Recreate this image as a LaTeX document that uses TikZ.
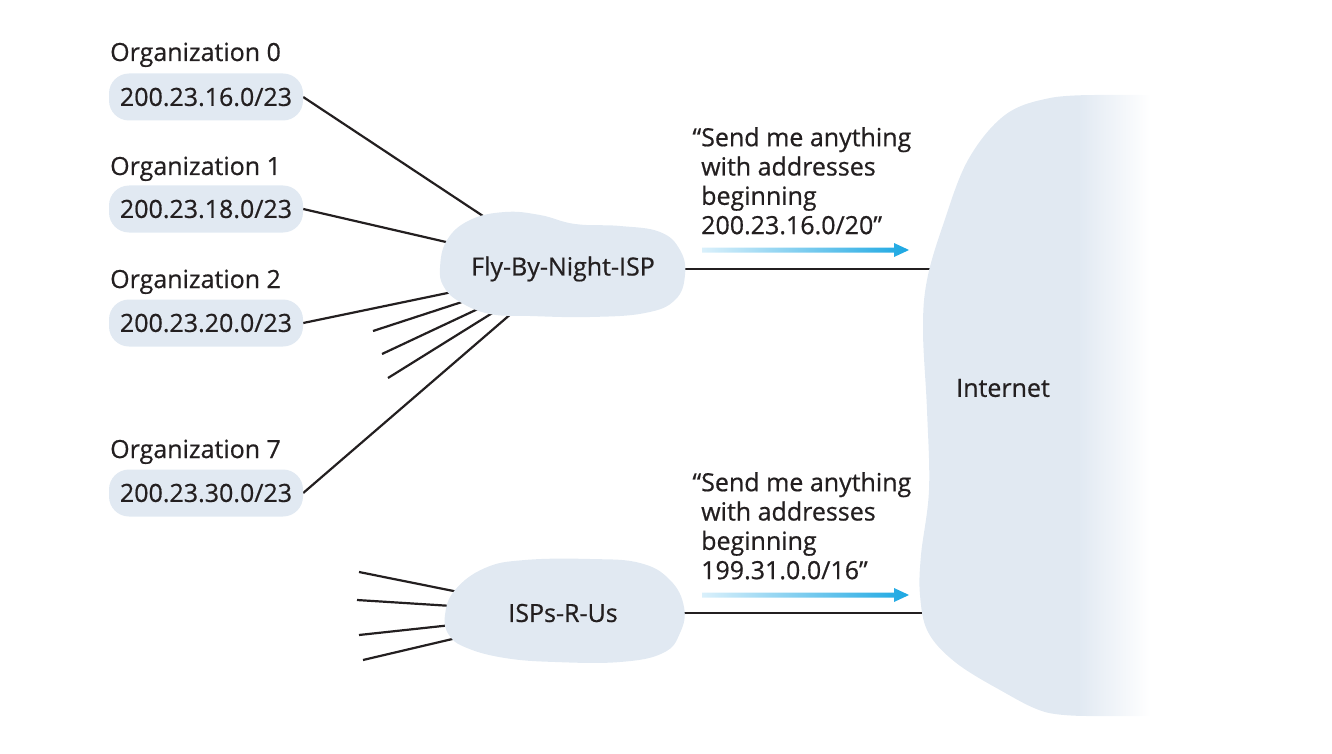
\documentclass[tikz,border=0pt]{standalone}
\usepackage{fontspec}
\setmainfont{Open Sans}[FakeBold=0.6]
\usepackage{tikz}
\usetikzlibrary{positioning}
\definecolor{cloudblue}{RGB}{225,233,242}
\definecolor{textgray}{RGB}{35,31,32}
\definecolor{arrowcyan}{RGB}{27,167,226}
\definecolor{arrowpale}{RGB}{218,240,251}
\pgfdeclarehorizontalshading{netfade}{100bp}{color(0bp)=(cloudblue); color(58bp)=(cloudblue); color(73bp)=(white); color(100bp)=(white)}
\pgfdeclarelayer{wires}
\pgfdeclarelayer{blobs}
\pgfsetlayers{wires,blobs,main}
\tikzstyle{orgblob} = [fill=cloudblue, rounded corners=20pt,
    minimum width=194pt, minimum height=47pt, inner sep=0pt]
\tikzstyle{orgname} = [anchor=base west, inner sep=0pt]
\tikzstyle{isp} = [inner sep=0pt]
\tikzstyle{link} = [draw=textgray, line width=2.2pt]
\tikzstyle{announce} = [align=left, anchor=north west, inner sep=0pt]
\tikzstyle{adarrow} = [left color=arrowpale, right color=arrowcyan]

\begin{document}
\begin{tikzpicture}[x=1pt, y=-1pt, font=\fontsize{25}{29.3}\selectfont, text=textgray]
    \useasboundingbox (0,0) rectangle (1332,754);
    % organizations
    \node [orgblob] (org0) at (206,97) {200.23.16.0/23};
    \node [orgname] (name0) at (110,61) {Organization 0};
    \node [orgblob] (org1) at (206,209) {200.23.18.0/23};
    \node [orgname] (name1) at (110,175) {Organization 1};
    \node [orgblob] (org2) at (206,323) {200.23.20.0/23};
    \node [orgname] (name2) at (110,288) {Organization 2};
    \node [orgblob] (org7) at (206,493) {200.23.30.0/23};
    \node [orgname] (name7) at (110,458) {Organization 7};
    % ISPs and the Internet
    \node [isp] (fbn) at (563,269) {Fly-By-Night-ISP};
    \node [isp] (rus) at (563,613) {ISPs-R-Us};
    \node [isp] (net) at (1003,388) {Internet};
    % advertisements
    \node [announce] (say1) at (701,127) {\llap{“}Send me anything\\with addresses\\beginning\\200.23.16.0/20”};
    \node [announce] (say2) at (701,472) {\llap{“}Send me anything\\with addresses\\beginning\\199.31.0.0/16”};
    \shade [adarrow] (702,247.5) -- (894,247.5) -- (894,243) -- (909,250) -- (894,257) -- (894,252.5) -- (702,252.5) -- cycle;
    \shade [adarrow] (702,592.5) -- (894,592.5) -- (894,588) -- (909,595) -- (894,602) -- (894,597.5) -- (702,597.5) -- cycle;
    % loose ends
    \coordinate (fbnstub1) at (373,331);
    \coordinate (fbnstub2) at (382,354);
    \coordinate (fbnstub3) at (388,378);
    \coordinate (russtub1) at (359,572);
    \coordinate (russtub2) at (357,600);
    \coordinate (russtub3) at (359,635);
    \coordinate (russtub4) at (363,660);
    \begin{pgfonlayer}{wires}
        \draw [link] (org0.east) -- (fbn.center);
        \draw [link] (org1.east) -- (fbn.center);
        \draw [link] (org2.east) -- (fbn.center);
        \draw [link] (org7.east) -- (fbn.center);
        \draw [link] (fbnstub1) -- (fbn.center);
        \draw [link] (fbnstub2) -- (fbn.center);
        \draw [link] (fbnstub3) -- (fbn.center);
        \draw [link] (russtub1) -- (rus.center);
        \draw [link] (russtub2) -- (rus.center);
        \draw [link] (russtub3) -- (rus.center);
        \draw [link] (russtub4) -- (rus.center);
        \draw [link] (fbn.center) -- (fbn.center -| net.west);
        \draw [link] (rus.center) -- (rus.center -| net.west);
    \end{pgfonlayer}
    \begin{pgfonlayer}{blobs}
        \fill [cloudblue] plot [smooth cycle, tension=0.7] coordinates {(440,268) (447,240) (470,220) (505,212) (540,215) (575,224) (620,226) (660,232) (680,250) (685,275) (675,300) (645,313) (590,317) (530,316) (490,314) (460,302) (444,287)};
        \fill [cloudblue] plot [smooth cycle, tension=0.7] coordinates {(445,615) (455,590) (485,568) (525,560) (590,559) (640,563) (670,580) (684,607) (680,633) (663,653) (620,662) (555,662) (505,658) (467,648) (449,635)};
        \shade [shading=netfade] (1160,95) -- plot [smooth, tension=0.6] coordinates {(1100,95) (1050,98) (1005,115) (968,160) (943,225) (927,280) (923,330) (927,410) (929,490) (921,555) (920,595) (928,632) (955,662) (1000,690) (1045,712) (1090,716)} -- (1160,716) -- cycle;
    \end{pgfonlayer}
\end{tikzpicture}
\end{document}
